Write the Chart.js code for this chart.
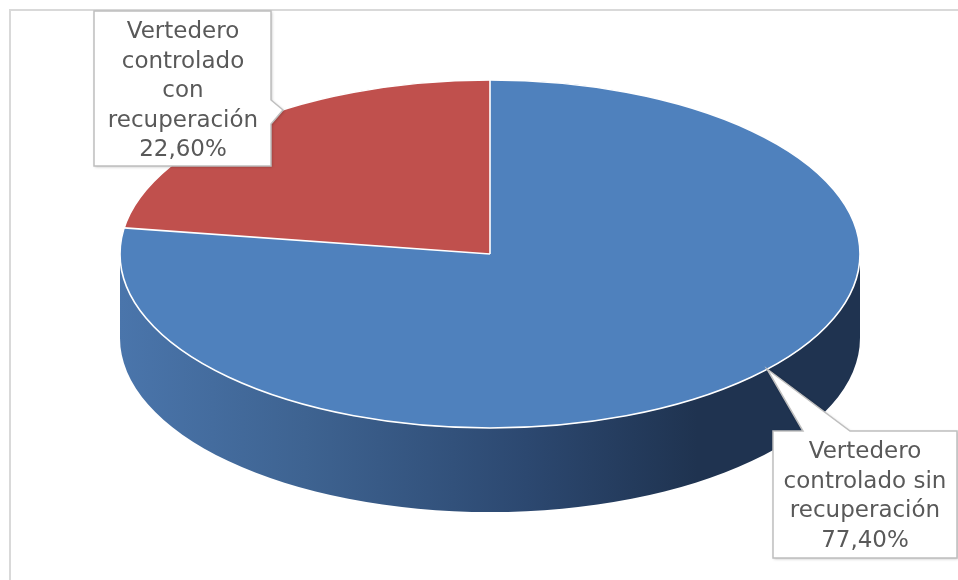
<!DOCTYPE html>
<html>
<head>
<meta charset="utf-8">
<script src="https://cdn.jsdelivr.net/npm/chart.js@4.4.1/dist/chart.umd.min.js"></script>
<style>
  html, body { margin: 0; padding: 0; background: #fff; }
  #tarta { display: block; }
</style>
</head>
<body>
<canvas id="tarta" width="958" height="580"></canvas>
<script>
// datos
const categorias = [
  ['Vertedero', 'controlado sin', 'recuperación'],
  ['Vertedero', 'controlado', 'con', 'recuperación']
]
const porcentajes = [77.4, 22.6]
const colores = ['#4f81bd', '#c0504d']

// geometria del pastel 3D (elipse de la cara superior)
const CX = 490, CY = 254, RX = 370, RY = 174, PROF = 84

// cajas de etiqueta: rectangulo + punta de la flecha
const cajas = [
  { x: 773, y: 431, w: 184, h: 127, punta: [[803, 431], [767, 369], [850, 431]], lado: 'top', tx: 865, ty: 452 },
  { x: 94, y: 11, w: 177, h: 155, punta: [[271, 100], [283, 110], [271, 124]], lado: 'right', tx: 183, ty: 32 }
]

const formatea = v => v.toFixed(2).replace('.', ',') + '%'

const marco = {
  id: 'marco',
  beforeDraw(chart) {
    const ctx = chart.ctx
    ctx.save()
    ctx.strokeStyle = '#d9d9d9'
    ctx.lineWidth = 2
    ctx.beginPath()
    ctx.moveTo(10, 590)
    ctx.lineTo(10, 10)
    ctx.lineTo(970, 10)
    ctx.stroke()
    ctx.restore()
  }
}

const pastel3d = {
  id: 'pastel3d',
  beforeDatasetsDraw(chart) {
    const ctx = chart.ctx
    const arc = chart.getDatasetMeta(0).data[0]
    // lateral
    ctx.save()
    const g = ctx.createLinearGradient(CX - RX, 0, CX + RX, 0)
    g.addColorStop(0, '#4a75ab')
    g.addColorStop(0.25, '#3e6391')
    g.addColorStop(0.55, '#2c4870')
    g.addColorStop(0.78, '#1f3350')
    g.addColorStop(1, '#1f3350')
    ctx.beginPath()
    ctx.ellipse(CX, CY, RX, RY, 0, Math.PI, 0, true)
    ctx.lineTo(CX + RX, CY + PROF)
    ctx.ellipse(CX, CY + PROF, RX, RY, 0, 0, Math.PI, false)
    ctx.closePath()
    ctx.fillStyle = g
    ctx.fill()
    ctx.restore()
    // cara superior: aplastar el circulo en elipse
    ctx.save()
    ctx.translate(CX, CY)
    ctx.scale(RX / arc.outerRadius, RY / arc.outerRadius)
    ctx.translate(-arc.x, -arc.y)
  },
  afterDatasetsDraw(chart) {
    const ctx = chart.ctx
    ctx.restore()
    const arcs = chart.getDatasetMeta(0).data
    ctx.save()
    ctx.strokeStyle = '#ffffff'
    ctx.lineWidth = 1.6
    ctx.beginPath()
    ctx.ellipse(CX, CY, RX, RY, 0, 0, Math.PI * 2)
    ctx.stroke()
    arcs.forEach(a => {
      const t = a.startAngle
      ctx.beginPath()
      ctx.moveTo(CX, CY)
      ctx.lineTo(CX + RX * Math.cos(t), CY + RY * Math.sin(t))
      ctx.stroke()
    })
    ctx.restore()
  }
}

const etiquetas = {
  id: 'etiquetas',
  afterDraw(chart) {
    const ctx = chart.ctx
    const etqs = chart.data.labels
    const vals = chart.data.datasets[0].data
    cajas.forEach((c, i) => {
      ctx.save()
      ctx.beginPath()
      if (c.lado === 'top') {
        ctx.moveTo(c.x, c.y)
        ctx.lineTo(c.punta[0][0], c.punta[0][1])
        ctx.lineTo(c.punta[1][0], c.punta[1][1])
        ctx.lineTo(c.punta[2][0], c.punta[2][1])
        ctx.lineTo(c.x + c.w, c.y)
        ctx.lineTo(c.x + c.w, c.y + c.h)
        ctx.lineTo(c.x, c.y + c.h)
      } else {
        ctx.moveTo(c.x, c.y)
        ctx.lineTo(c.x + c.w, c.y)
        ctx.lineTo(c.punta[0][0], c.punta[0][1])
        ctx.lineTo(c.punta[1][0], c.punta[1][1])
        ctx.lineTo(c.punta[2][0], c.punta[2][1])
        ctx.lineTo(c.x + c.w, c.y + c.h)
        ctx.lineTo(c.x, c.y + c.h)
      }
      ctx.closePath()
      ctx.fillStyle = '#ffffff'
      ctx.shadowColor = 'rgba(0,0,0,0.25)'
      ctx.shadowBlur = 3
      ctx.shadowOffsetX = 1
      ctx.shadowOffsetY = 1
      ctx.fill()
      ctx.shadowColor = 'transparent'
      ctx.strokeStyle = '#bfbfbf'
      ctx.lineWidth = 1.5
      ctx.stroke()
      const lineas = etqs[i].concat([formatea(vals[i])])
      ctx.fillStyle = '#595959'
      ctx.font = '23px "DejaVu Sans"'
      ctx.textAlign = 'center'
      ctx.textBaseline = 'middle'
      lineas.forEach((l, j) => ctx.fillText(l, c.tx, c.ty + j * 29.6))
      ctx.restore()
    })
  }
}

new Chart(document.querySelector('#tarta'), {
  type: 'pie',
  data: {
    labels: categorias,
    datasets: [{
      data: porcentajes,
      backgroundColor: colores,
      borderWidth: 0,
      clip: false
    }]
  },
  options: {
    responsive: false,
    animation: false,
    layout: { padding: 0 },
    plugins: {
      legend: { display: false },
      tooltip: { enabled: false }
    }
  },
  plugins: [marco, pastel3d, etiquetas]
})
</script>
</body>
</html>
